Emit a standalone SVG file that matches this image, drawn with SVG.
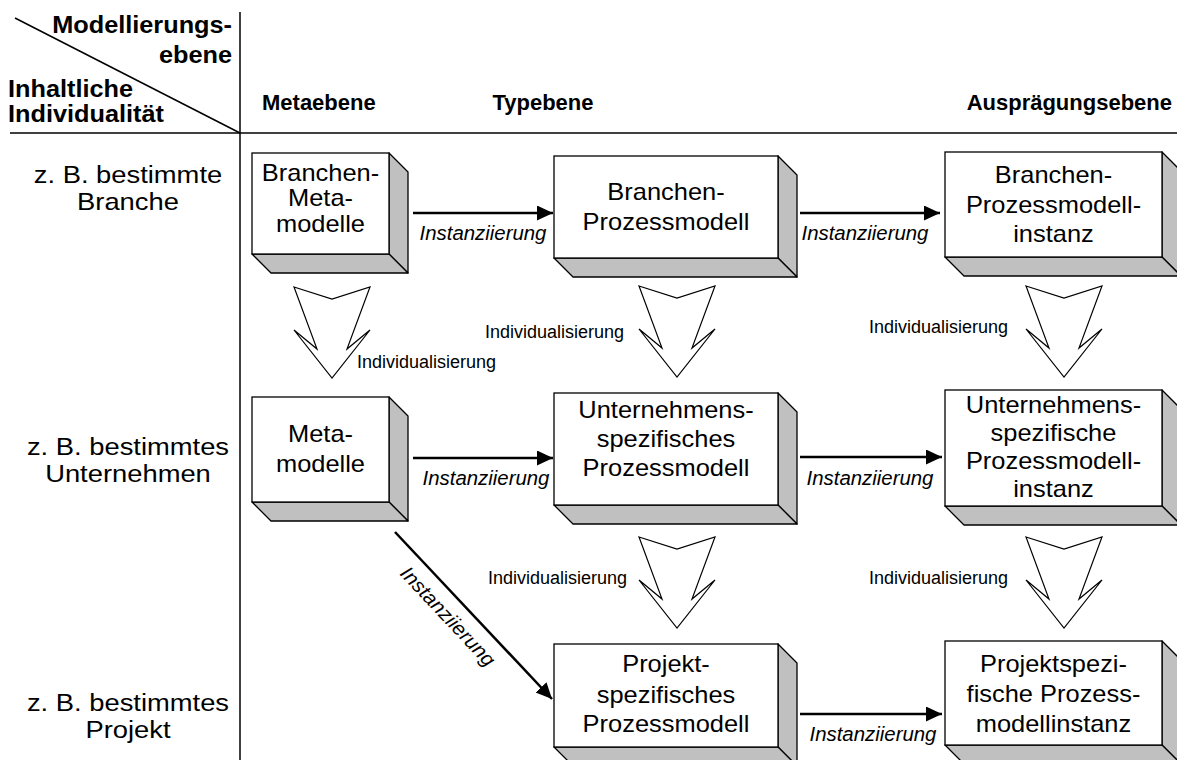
<svg xmlns="http://www.w3.org/2000/svg" width="1177" height="760" viewBox="0 0 1177 760">
  <style>
    text { font-family: "Liberation Sans", Arial, sans-serif; fill: #000; }
    .wide, .wideL, .wideR { transform-box: fill-box; }
    .wide { transform-origin: center; }
    .wideL { transform-origin: left; }
    .wideR { transform-origin: right; }
    .corner { font-size: 23px; font-weight: bold; transform: scaleX(1.1); }
    .hdr { font-size: 22px; font-weight: bold; }
    .row { font-size: 24px; text-anchor: middle; transform: scaleX(1.14); }
    .box { font-size: 24px; text-anchor: middle; transform: scaleX(1.06); }
    .inst { font-size: 20px; font-style: italic; text-anchor: middle; transform: scaleX(1.02); }
    .inst-d { font-size: 20px; font-style: italic; text-anchor: middle; }
    .indiv { font-size: 18px; }
    .front { fill: #fff; stroke: #000; stroke-width: 1.3; }
    .shade { fill: #c0c0c0; stroke: #000; stroke-width: 1.3; stroke-linejoin: round; }
    .grid { stroke: #000; stroke-width: 1.5; fill: none; }
    .conn { stroke: #000; stroke-width: 2.5; fill: none; marker-end: url(#head); }
    .bigarrow { fill: #fff; stroke: #000; stroke-width: 1.2; stroke-linejoin: miter; }
  </style>
  <defs>
    <marker id="head" markerUnits="userSpaceOnUse" markerWidth="17" markerHeight="16" refX="16" refY="7.5" orient="auto">
      <path d="M0,0 L16,7.5 L0,15 Z" fill="#000"/>
    </marker>
    <path id="indiv-arrow" class="bigarrow" d="M-38,0 L0,12 L38,0 L15,62 L38,43 L0,91 L-38,43 L-15,62 Z"/>
  </defs>

  <rect width="1177" height="760" fill="#fff"/>

  <!-- table frame -->
  <g id="frame">
    <line class="grid" x1="240" y1="12" x2="240" y2="760"/>
    <line class="grid" x1="10" y1="133" x2="1177" y2="133"/>
    <line class="grid" x1="15" y1="18" x2="240" y2="133"/>
    <text class="corner wideR" x="232" y="33" text-anchor="end">Modellierungs-</text>
    <text class="corner wideR" x="232" y="63" text-anchor="end">ebene</text>
    <text class="corner wideL" x="8" y="97">Inhaltliche</text>
    <text class="corner wideL" x="8" y="122">Individualität</text>
    <text class="hdr" x="262" y="110">Metaebene</text>
    <text class="hdr" x="543" y="110" text-anchor="middle">Typebene</text>
    <text class="hdr" x="1172" y="110" text-anchor="end">Ausprägungsebene</text>
  </g>

  <!-- row labels -->
  <g id="rows">
    <text class="row wide" x="128" y="183">z. B. bestimmte</text>
    <text class="row wide" x="128" y="210">Branche</text>
    <text class="row wide" x="128" y="455">z. B. bestimmtes</text>
    <text class="row wide" x="128" y="482">Unternehmen</text>
    <text class="row wide" x="128" y="711">z. B. bestimmtes</text>
    <text class="row wide" x="128" y="738">Projekt</text>
  </g>

  <!-- connectors -->
  <g id="connectors">
    <line class="conn" x1="413" y1="213" x2="553" y2="213"/>
    <line class="conn" x1="800" y1="213" x2="940" y2="213"/>
    <line class="conn" x1="413" y1="458" x2="553" y2="458"/>
    <line class="conn" x1="800" y1="457" x2="942" y2="457"/>
    <line class="conn" x1="800" y1="714" x2="942" y2="714"/>
    <line class="conn" x1="395" y1="532" x2="552" y2="699"/>
    <text class="inst wide" x="483" y="240">Instanziierung</text>
    <text class="inst wide" x="865" y="240">Instanziierung</text>
    <text class="inst wide" x="486" y="485">Instanziierung</text>
    <text class="inst wide" x="870" y="485">Instanziierung</text>
    <text class="inst wide" x="873" y="741">Instanziierung</text>
    <text class="inst-d" transform="translate(443,621) rotate(46.8) scale(1.03,1)">Instanziierung</text>

    <use href="#indiv-arrow" x="332" y="287"/>
    <use href="#indiv-arrow" x="677" y="286"/>
    <use href="#indiv-arrow" x="1064" y="286"/>
    <use href="#indiv-arrow" x="677" y="537"/>
    <use href="#indiv-arrow" x="1064" y="537"/>
    <text class="indiv" x="357" y="368">Individualisierung</text>
    <text class="indiv" x="485" y="338">Individualisierung</text>
    <text class="indiv" x="1008" y="333" text-anchor="end">Individualisierung</text>
    <text class="indiv" x="488" y="584">Individualisierung</text>
    <text class="indiv" x="1008" y="584" text-anchor="end">Individualisierung</text>
  </g>

  <!-- nodes: front face plus shaded right and bottom faces (depth 19) -->
  <g id="branchen-metamodelle">
    <polygon class="shade" points="389,153 408,172 408,273 389,254"/>
    <polygon class="shade" points="252,254 389,254 408,273 271,273"/>
    <rect class="front" x="252" y="153" width="137" height="101"/>
    <text class="box wide" x="320.5" y="181">Branchen-</text>
    <text class="box wide" x="320.5" y="206">Meta-</text>
    <text class="box wide" x="320.5" y="232">modelle</text>
  </g>

  <g id="branchen-prozessmodell">
    <polygon class="shade" points="778,156 797,175 797,277 778,258"/>
    <polygon class="shade" points="554,258 778,258 797,277 573,277"/>
    <rect class="front" x="554" y="156" width="224" height="102"/>
    <text class="box wide" x="666" y="200">Branchen-</text>
    <text class="box wide" x="666" y="230">Prozessmodell</text>
  </g>

  <g id="branchen-prozessmodellinstanz">
    <polygon class="shade" points="1162,152 1181,171 1181,276 1162,257"/>
    <polygon class="shade" points="945,257 1162,257 1181,276 964,276"/>
    <rect class="front" x="945" y="152" width="217" height="105"/>
    <text class="box wide" x="1053.5" y="183">Branchen-</text>
    <text class="box wide" x="1053.5" y="213">Prozessmodell-</text>
    <text class="box wide" x="1053.5" y="242">instanz</text>
  </g>

  <g id="metamodelle">
    <polygon class="shade" points="389,397 408,416 408,521 389,502"/>
    <polygon class="shade" points="252,502 389,502 408,521 271,521"/>
    <rect class="front" x="252" y="397" width="137" height="105"/>
    <text class="box wide" x="320.5" y="442">Meta-</text>
    <text class="box wide" x="320.5" y="472">modelle</text>
  </g>

  <g id="unternehmens-prozessmodell">
    <polygon class="shade" points="778,393 797,412 797,524 778,505"/>
    <polygon class="shade" points="554,505 778,505 797,524 573,524"/>
    <rect class="front" x="554" y="393" width="224" height="112"/>
    <text class="box wide" x="666" y="418">Unternehmens-</text>
    <text class="box wide" x="666" y="447">spezifisches</text>
    <text class="box wide" x="666" y="476">Prozessmodell</text>
  </g>

  <g id="unternehmens-prozessmodellinstanz">
    <polygon class="shade" points="1162,390 1181,409 1181,525 1162,506"/>
    <polygon class="shade" points="945,506 1162,506 1181,525 964,525"/>
    <rect class="front" x="945" y="390" width="217" height="116"/>
    <text class="box wide" x="1053.5" y="413">Unternehmens-</text>
    <text class="box wide" x="1053.5" y="441">spezifische</text>
    <text class="box wide" x="1053.5" y="469">Prozessmodell-</text>
    <text class="box wide" x="1053.5" y="497">instanz</text>
  </g>

  <g id="projekt-prozessmodell">
    <polygon class="shade" points="778,644 797,663 797,766 778,747"/>
    <polygon class="shade" points="554,747 778,747 797,766 573,766"/>
    <rect class="front" x="554" y="644" width="224" height="103"/>
    <text class="box wide" x="666" y="672">Projekt-</text>
    <text class="box wide" x="666" y="703">spezifisches</text>
    <text class="box wide" x="666" y="732">Prozessmodell</text>
  </g>

  <g id="projekt-prozessmodellinstanz">
    <polygon class="shade" points="1162,641 1181,660 1181,764 1162,745"/>
    <polygon class="shade" points="945,745 1162,745 1181,764 964,764"/>
    <rect class="front" x="945" y="641" width="217" height="104"/>
    <text class="box wide" x="1053.5" y="672">Projektspezi-</text>
    <text class="box wide" x="1053.5" y="702">fische Prozess-</text>
    <text class="box wide" x="1053.5" y="732">modellinstanz</text>
  </g>
</svg>
